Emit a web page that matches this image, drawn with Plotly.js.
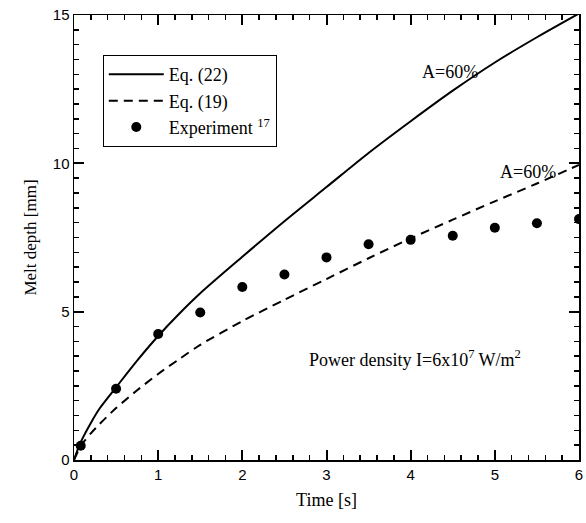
<!DOCTYPE html>
<html>
<head>
<meta charset="utf-8">
<script src="https://cdn.plot.ly/plotly-3.0.1.min.js"></script>
<style>html,body{margin:0;padding:0;background:#fff;}#chart{width:586px;height:523px;}</style>
</head>
<body>
<div id="chart"></div>
<script>
// Eq. (22) solid curve
const eq22Time  = [0, 0.05, 0.1, 0.2, 0.3, 0.5, 0.75, 1, 1.25, 1.5, 2, 2.5, 3, 3.5, 4, 4.5, 5, 5.5, 6];
const eq22Depth = [0, 0.4, 0.72, 1.25, 1.72, 2.45, 3.35, 4.18, 4.93, 5.62, 6.85, 8.05, 9.2, 10.35, 11.42, 12.45, 13.4, 14.25, 15.05];
// Eq. (19) dashed curve
const eq19Time  = [0, 0.05, 0.1, 0.2, 0.3, 0.5, 0.75, 1, 1.25, 1.5, 2, 2.5, 3, 3.5, 4, 4.5, 5, 5.5, 6];
const eq19Depth = [0, 0.3, 0.55, 0.9, 1.2, 1.75, 2.35, 2.9, 3.4, 3.88, 4.68, 5.4, 6.1, 6.8, 7.47, 8.1, 8.72, 9.32, 9.95];
// Experiment 17
const expTime  = [0.08, 0.5, 1, 1.5, 2, 2.5, 3, 3.5, 4, 4.5, 5, 5.5, 6];
const expDepth = [0.48, 2.4, 4.25, 4.97, 5.83, 6.25, 6.83, 7.27, 7.42, 7.56, 7.83, 7.98, 8.12];
// labels
const seriesNames = ["Eq. (22)", "Eq. (19)", "Experiment <sup>17</sup>"];
const xTitle = "Time [s]";
const yTitle = "Melt depth [mm]";

const serif = "Liberation Serif, Times New Roman, serif";
const sans = "Liberation Sans, Arial, sans-serif";

const traces = [
  {x: eq22Time, y: eq22Depth, name: seriesNames[0], mode: "lines", type: "scatter",
   line: {color: "#000", width: 2, shape: "spline", smoothing: 0.8}},
  {x: eq19Time, y: eq19Depth, name: seriesNames[1], mode: "lines", type: "scatter",
   line: {color: "#000", width: 2, dash: "9px,6px", shape: "spline", smoothing: 0.8}},
  {x: expTime, y: expDepth, name: seriesNames[2], mode: "markers", type: "scatter",
   marker: {color: "#000", size: 10}}
];

const layout = {
  width: 586, height: 523,
  margin: {l: 74, r: 7, t: 15, b: 63},
  paper_bgcolor: "#fff", plot_bgcolor: "#fff",
  showlegend: true,
  legend: {x: 0.057, y: 0.91, xanchor: "left", yanchor: "top",
           bordercolor: "#000", borderwidth: 1, bgcolor: "#fff",
           itemwidth: 55,
           font: {family: serif, size: 18, color: "#000"}, tracegroupgap: 6},
  xaxis: {
    range: [0, 6], tickmode: "linear", dtick: 1, tick0: 0,
    showgrid: false, zeroline: false, showline: true, linecolor: "#000", linewidth: 1.5,
    mirror: "allticks", ticks: "inside", ticklen: 10, tickwidth: 2, tickcolor: "#000000",
    minor: {ticks: "inside", dtick: 0.2, ticklen: 5, tickwidth: 1.5, tickcolor: "#000000"},
    tickfont: {family: sans, size: 15, color: "#000"},
    title: {text: xTitle, font: {family: serif, size: 18, color: "#000"}, standoff: 12}
  },
  yaxis: {
    range: [0, 15], tickmode: "linear", dtick: 5, tick0: 0,
    showgrid: false, zeroline: false, showline: true, linecolor: "#000", linewidth: 1.5,
    mirror: "allticks", ticks: "inside", ticklen: 10, tickwidth: 2, tickcolor: "#000000",
    minor: {ticks: "inside", dtick: 0.5, ticklen: 5, tickwidth: 1.5, tickcolor: "#000000"},
    tickfont: {family: sans, size: 15, color: "#000"},
    title: {text: yTitle, font: {family: serif, size: 17, color: "#000"}, standoff: 12}
  },
  annotations: [
    {x: 4.47, y: 13.08, xref: "x", yref: "y", text: "A=60%", showarrow: false,
     font: {family: serif, size: 18, color: "#000"}},
    {x: 5.39, y: 9.72, xref: "x", yref: "y", text: "A=60%", showarrow: false,
     font: {family: serif, size: 18, color: "#000"}},
    {x: 4.05, y: 3.43, xref: "x", yref: "y", text: "Power density I=6x10<sup>7</sup> W/m<sup>2</sup>", showarrow: false,
     font: {family: serif, size: 18, color: "#000"}}
  ]
};

Plotly.newPlot("chart", traces, layout, {staticPlot: true, displayModeBar: false});
</script>
</body>
</html>
